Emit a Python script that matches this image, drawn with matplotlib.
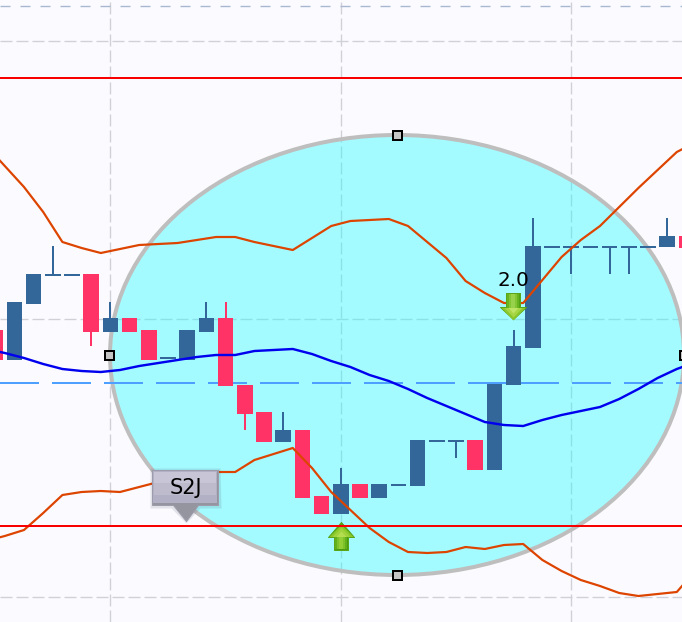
import numpy as np
import matplotlib
matplotlib.use("Agg")
import matplotlib.pyplot as plt
from matplotlib.patches import Ellipse
from matplotlib.path import Path

# ---- data: y values are chart units, x values are bar numbers
bar_index = list(range(-1, 36))
bar_top = [330, 302, 274, 275, 275, 274, 318, 318, 330, 358, 330, 318, 318, 385, 412, 430, 430, 496, 484,
           484, 484, 485, 440, 441, 441, 440, 384, 346, 246, 247, 247, 247, 247, 247, 247, 236, 236]
bar_bottom = [360, 360, 304, 275, 275, 332, 332, 332, 360, 358, 360, 332, 386, 414, 442, 442, 498, 514, 514,
              498, 498, 485, 486, 441, 441, 470, 470, 385, 348, 247, 247, 247, 247, 247, 247, 247, 248]
wick_high = [330, 302, 274, 246, 275, 274, 302, 318, 330, 358, 330, 302, 302, 385, 412, 412, 430, 496, 468,
             484, 484, 485, 440, 441, 441, 440, 384, 330, 218, 247, 247, 247, 247, 247, 247, 218, 236]
wick_low = [360, 360, 304, 275, 275, 346, 332, 332, 360, 358, 360, 332, 386, 430, 442, 442, 498, 514, 514,
            498, 498, 485, 486, 441, 458, 470, 470, 385, 348, 247, 274, 247, 274, 274, 247, 247, 248]
bar_rising = [0, 1, 1, 1, 1, 0, 1, 0, 0, 1, 1, 1, 0, 0, 0, 1, 0, 0, 1,
              0, 1, 1, 1, 1, 1, 0, 1, 1, 1, 1, 1, 1, 1, 1, 1, 1, 0]

band_index = list(range(-2, 36))
band_upper = [145, 166, 187, 212, 242, 248, 253, 249, 245, 244, 243, 240, 237, 237, 242, 246, 250, 238, 226, 221,
              220, 219, 226, 242, 258, 281, 293, 303, 303, 280, 257, 240, 226, 207, 188, 170, 152, 142]
band_middle = [349, 353, 358, 364, 369, 371, 372, 370, 366, 363, 360, 357, 355, 355, 351, 350, 349, 354, 361, 367,
               375, 381, 389, 398, 406, 414, 422, 425, 426, 420, 415, 411, 407, 399, 389, 378, 369, 362]
band_lower = [541, 536, 530, 513, 495, 492, 491, 492, 487, 482, 478, 475, 472, 472, 460, 454, 448, 468, 492, 510,
              528, 542, 552, 553, 552, 547, 549, 545, 544, 560, 571, 580, 586, 593, 596, 594, 592, 570]

grid_x_bars = [5, 17, 29]
grid_y = [41, 319, 597]
top_level = 6
red_levels = [78, 526]
blue_level = 383

# ---- style
PX = 0.72
BLUE, RED = "#336699", "#FF3366"
W, H = 682, 622
x0, step = 14.4, 19.2
def bx(px):
    return (px - x0) / step

fig = plt.figure(figsize=(6.82, 6.22), dpi=100, facecolor="#FBFBFF")
ax = fig.add_axes([0, 0, 1, 1])
ax.set_xlim(bx(0), bx(W))
ax.set_ylim(H, 0)
ax.axis("off")

# grid
for g in grid_x_bars:
    ax.axvline(g, color="#D0D0D8", lw=1.4*PX, dashes=(12/1.4, 4/1.4), zorder=1)
for g in grid_y:
    ax.axhline(g, color="#D0D0D8", lw=1.4*PX, dashes=(12/1.4, 4/1.4), zorder=1)
ax.axhline(top_level, color="#A8B8D0", lw=1.4*PX, dashes=(10/1.4, 10/1.4), zorder=1)

# ellipse
ax.add_patch(Ellipse((bx(397), 355), 574/step, 440, facecolor=(34/255, 253/255, 1, 0.4),
                     edgecolor="none", zorder=2))
ax.add_patch(Ellipse((bx(397), 355), 574/step, 440, facecolor="none", edgecolor="#BEBEBE",
                     lw=4*PX, zorder=2.1))

# levels
for l in red_levels:
    ax.axhline(l, color="#F80000", lw=2*PX, zorder=7.8)
ax.axhline(blue_level, color="#4DA0FF", lw=2*PX, dashes=(39/2, 13/2), zorder=3)

# candles
for i, t, b, hi, lo, up in zip(bar_index, bar_top, bar_bottom, wick_high, wick_low, bar_rising):
    c = BLUE if up else RED
    ax.vlines(i, hi, lo, color=c, lw=2*PX, zorder=4)
    if t == b:
        ax.hlines(t, i - 0.41, i + 0.41, color=c, lw=2*PX, zorder=4)
    else:
        ax.bar(i, b - t, bottom=t, width=0.82, color=c, linewidth=0, zorder=4)

# bands
xs = np.array(band_index) + 0.5
ax.plot(xs, band_upper, color="#DD4400", lw=2.2*PX, zorder=5)
ax.plot(xs, band_lower, color="#DD4400", lw=2.2*PX, zorder=5)
ax.plot(xs, band_middle, color="#0000EE", lw=2.4*PX, zorder=5)

# handles
for hx, hy in [(397, 135), (397, 575), (109, 355), (684, 355)]:
    ax.plot(bx(hx), hy, marker="s", ms=9*PX, mfc="#C4C4C4", mec="black", mew=2*PX, zorder=6)

def shape(px_pts, xp, yp, fc, ec="none", lw=0, z=7):
    """Draw a polygon given in pixel offsets (y upward) around an anchor, as a marker."""
    v = np.array(px_pts + [px_pts[0]], float)
    r = np.abs(v).max()
    ax.plot(bx(xp), yp, marker=Path(v, closed=True), ms=2*r*PX, mfc=fc, mec=ec, mew=lw*PX,
            linestyle="none", zorder=z)

def arrow(xp, yp, s, tip, tail, stripes, heads):
    """s=+1 up, s=-1 down; head base sits at the anchor."""
    outline = [(-7, -tail*s), (7, -tail*s), (7, 0), (13, 0), (0, tip*s), (-13, 0), (-7, 0)]
    shape(outline, xp, yp, stripes[0], "#5AA518", 1, z=7)
    # shaft, dark at the rim and light towards the middle
    for k, (hw, c) in enumerate(stripes[1:]):
        shape([(-hw, -(tail-1)*s), (hw, -(tail-1)*s), (hw, 1*s), (-hw, 1*s)], xp, yp, c, z=7.1+k*0.01)
    # head, lighter towards the middle
    for k, (hw, c) in enumerate(heads):
        shape([(-hw, 0.5*s), (hw, 0.5*s), (0, (hw+1)*s)], xp, yp, c, z=7.2+k*0.01)

arrow(341, 537, 1, 15, 13, ["#4C9C10", (6, "#62B01C"), (4, "#7CC228"), (2, "#92CE34")],
      [(12, "#88C828"), (9, "#A0D23C"), (5, "#B4DE50")])
arrow(513, 307, -1, 12, 14, ["#52A212", (6, "#68B420"), (4, "#82C634"), (2, "#98D24C")],
      [(12, "#88C62C"), (9, "#A6D644"), (5, "#BEE466")])

ax.text(bx(513), 281, "2.0", fontsize=14.4, ha="center", va="center", color="black", zorder=8)

# callout
out = [(-34, 51), (32, 51), (32, 16), (12, 16), (0, 0), (-13, 16), (-34, 16)]
shape([(-36, 53), (34, 53), (35, 13), (14, 13), (0, -2), (-15, 13), (-36, 13)], 186, 521, (0.3, 0.3, 0.4, 0.14), z=6.5)
shape(out, 186, 521, "#95959F", "#9C9CAC", 1, z=7)
shape([(-33, 50), (31, 50), (31, 18), (-33, 18)], 186, 521, "#B2B0C4", z=7.1)
shape([(-32, 49), (30, 49), (30, 26), (-32, 26)], 186, 521, "#BDBBCC", z=7.2)
shape([(-32, 49), (30, 49), (30, 38), (-32, 38)], 186, 521, "#C8C6D6", z=7.3)
ax.text(bx(186), 488.5, "S2J", fontsize=15, ha="center", va="center", color="black", zorder=8)

fig.savefig("out.png", dpi=100, facecolor=fig.get_facecolor())
